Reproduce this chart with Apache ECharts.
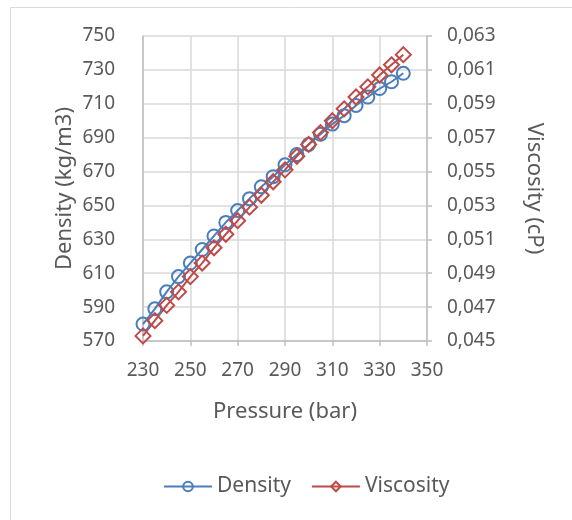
<!DOCTYPE html>
<html>
<head>
<meta charset="utf-8">
<script src="https://cdn.jsdelivr.net/npm/echarts@6/dist/echarts.min.js"></script>
<style>
html,body{margin:0;padding:0;background:#fff;}
#chart{width:572px;height:520px;}
</style>
</head>
<body>
<div id="chart"></div>
<script>
const pressure = [230,235,240,245,250,255,260,265,270,275,280,285,290,295,300,305,310,315,320,325,330,335,340];
const density = [580,589,599,608,616,624,632,640,647,654,661,667,674,680,686,692,698,703,709,714,719,723,728];
const viscosity = [0.0453,0.0462,0.0471,0.0479,0.0488,0.0496,0.0505,0.0513,0.0521,0.0529,0.0536,0.0544,0.0551,0.0559,0.0566,0.0573,0.0580,0.0587,0.0594,0.0600,0.0607,0.0613,0.0619];
const seriesNames = ['Density','Viscosity'];
const xTitle = 'Pressure (bar)';
const yLeftTitle = 'Density (kg/m3)';
const yRightTitle = 'Viscosity (cP)';

const FONT = 'Noto Sans';
const TXT = '#595959';
const BLUE = '#4A7EBB';
const RED = '#BE4B48';

const chart = echarts.init(document.getElementById('chart'), null, {renderer:'canvas'});
chart.setOption({
  animation:false,
  backgroundColor:'#fff',
  textStyle:{fontFamily:FONT},
  graphic:[{type:'rect',shape:{x:10.5,y:7.5,width:700,height:700},style:{fill:'none',stroke:'#D9D9D9',lineWidth:1}}],
  grid:{left:143,right:145,top:36,bottom:179,containLabel:false},
  legend:{
    data:seriesNames, top:471, left:158, itemWidth:48, itemHeight:12, itemGap:20,
    textStyle:{fontFamily:FONT,fontSize:21,color:TXT}
  },
  xAxis:{
    type:'value', min:230, max:350, interval:20,
    name:xTitle, nameLocation:'middle', nameGap:60,
    nameTextStyle:{fontFamily:FONT,fontSize:22,color:TXT},
    axisLine:{show:true,lineStyle:{color:'#BFBFBF',width:1.5}},
    axisTick:{show:true,length:5,inside:false,lineStyle:{color:'#BFBFBF',width:1.5}},
    axisLabel:{fontFamily:FONT,fontSize:19,color:TXT,margin:20},
    splitLine:{show:true,lineStyle:{color:'#D9D9D9',width:1.5}}
  },
  yAxis:[{
    type:'value', min:570, max:750, interval:20, position:'left',
    name:yLeftTitle, nameLocation:'middle', nameGap:67, nameRotate:90,
    nameTextStyle:{fontFamily:FONT,fontSize:22,color:TXT},
    axisLine:{show:true,lineStyle:{color:'#BFBFBF',width:1.5}},
    axisTick:{show:false},
    axisLabel:{fontFamily:FONT,fontSize:19,color:TXT,margin:28},
    splitLine:{show:true,lineStyle:{color:'#D9D9D9',width:1.5}}
  },{
    type:'value', min:0.045, max:0.063, interval:0.002, position:'right',
    name:yRightTitle, nameLocation:'middle', nameGap:96, nameRotate:-90,
    nameTextStyle:{fontFamily:FONT,fontSize:22,color:TXT},
    axisLine:{show:true,lineStyle:{color:'#BFBFBF',width:1.5}},
    axisTick:{show:true,length:5,lineStyle:{color:'#BFBFBF',width:1.5}},
    axisLabel:{fontFamily:FONT,fontSize:19,color:TXT,margin:20,
      formatter:v=>v.toFixed(3).replace('.',',')},
    splitLine:{show:false}
  }],
  series:[{
    name:seriesNames[0], type:'line', yAxisIndex:0,
    data:pressure.map((p,i)=>[p,density[i]]),
    symbol:'circle', symbolSize:13,
    lineStyle:{color:BLUE,width:2},
    itemStyle:{color:'rgba(0,0,0,0)',borderColor:BLUE,borderWidth:2}
  },{
    name:seriesNames[1], type:'line', yAxisIndex:1,
    data:pressure.map((p,i)=>[p,viscosity[i]]),
    symbol:'diamond', symbolSize:15,
    lineStyle:{color:RED,width:2},
    itemStyle:{color:'rgba(0,0,0,0)',borderColor:RED,borderWidth:2}
  }]
});
</script>
</body>
</html>
